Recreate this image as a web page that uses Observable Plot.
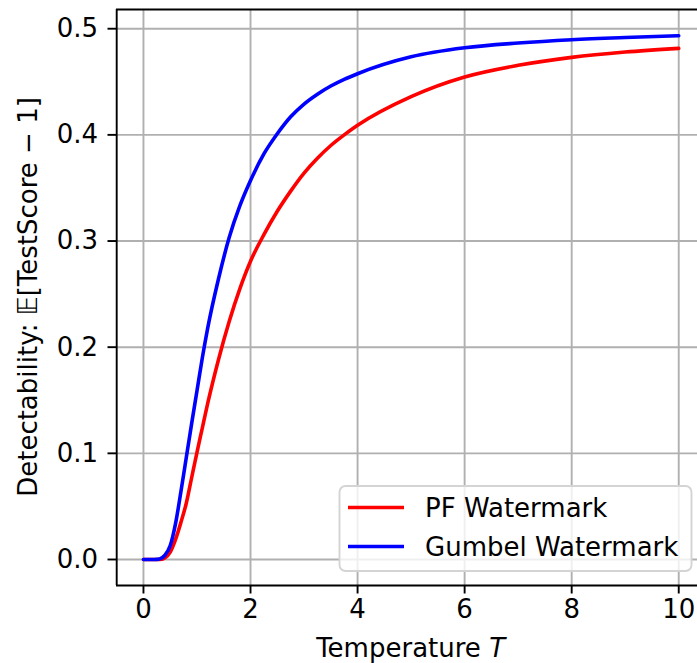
<!DOCTYPE html>
<html><head><meta charset="utf-8">
<script src="https://cdn.jsdelivr.net/npm/d3@7"></script>
<script src="https://cdn.jsdelivr.net/npm/@observablehq/plot@0.6"></script>
<style>
html,body{margin:0;padding:0;background:#fff;overflow:hidden;}
svg{display:block;}
svg text{font-family:"DejaVu Sans",sans-serif;}
</style></head><body><div id="chart"></div>
<script>
const temperatures = [0,0.1,0.2,0.3,0.4,0.5,0.6,0.7,0.8,0.9,1.0,1.1,1.2,1.4,1.6,1.8,2.0,2.25,2.5,2.75,3.0,3.25,3.5,3.75,4.0,5.0,6.0,7.0,8.0,9.0,10.0];
const pfValues =     [0,0,0,0,0.0015,0.007,0.019,0.035,0.053,0.077,0.101,0.124,0.147,0.188,0.224,0.255,0.281,0.306,0.328,0.347,0.364,0.378,0.39,0.4,0.409,0.436,0.4545,0.4655,0.473,0.478,0.4815];
const gumbelValues = [0,0,0,0.0005,0.004,0.013,0.034,0.064,0.096,0.128,0.159,0.19,0.218,0.264,0.303,0.333,0.357,0.382,0.401,0.417,0.429,0.4383,0.446,0.4523,0.4576,0.4735,0.482,0.4865,0.4896,0.4917,0.4934];
const seriesNames = ["PF Watermark","Gumbel Watermark"];
const seriesColors = ["#ff0000","#0000ff"];
const xTicks = [0,2,4,6,8,10];
const yTicks = [0,0.1,0.2,0.3,0.4,0.5];
const xLabel = "Temperature ";
const xLabelVar = "T";
const yLabel = "Detectability: 𝔼[TestScore − 1]";

const data = temperatures.flatMap((t,i)=>[
  {T:t, v:pfValues[i], s:seriesNames[0]},
  {T:t, v:gumbelValues[i], s:seriesNames[1]}
]);

const W=697, H=663, mL=116, mT=9, mB=78, FS=26;
const xDomain=[-0.5,10.5], yDomain=[-0.0245,0.5181];
const grid="#b0b0b0";

const plot = Plot.plot({
  width:W, height:H,
  marginLeft:mL, marginRight:0, marginTop:mT, marginBottom:mB,
  style:{fontFamily:"DejaVu Sans", fontSize:FS+"px", color:"#000", background:"#fff", overflow:"hidden"},
  x:{domain:xDomain, range:[116.2,705]},
  y:{domain:yDomain, range:[H-mB,mT]},
  color:{domain:seriesNames, range:seriesColors},
  marks:[
    Plot.ruleX(xTicks,{stroke:grid,strokeWidth:1.9}),
    Plot.ruleY(yTicks,{stroke:grid,strokeWidth:1.9}),
    Plot.line(data,{x:"T",y:"v",stroke:"s",z:"s",strokeWidth:3.6,curve:"monotone-x"}),
    Plot.ruleX([xDomain[0]],{stroke:"#000",strokeWidth:1.9}),
    Plot.ruleY([yDomain[0],yDomain[1]],{stroke:"#000",strokeWidth:1.9}),
    Plot.axisX({ticks:xTicks, tickSize:8.5, tickPadding:6, tickFormat:d=>String(d), label:null, strokeWidth:1.9, fontSize:FS, fill:"#000"}),
    Plot.axisY({ticks:yTicks, tickSize:8.5, tickPadding:10, tickFormat:d3.format(".1f"), label:null, strokeWidth:1.9, fontSize:FS, fill:"#000"})
  ]
});
document.getElementById("chart").appendChild(plot);

const svg = d3.select(plot);
// axis labels
const xl = svg.append("text").attr("x",410.6).attr("y",657).attr("text-anchor","middle")
  .attr("font-size",FS).attr("fill","#000");
xl.append("tspan").text(xLabel);
xl.append("tspan").attr("font-style","italic").text(xLabelVar);
svg.append("text").attr("transform","translate(37,297) rotate(-90)").attr("text-anchor","middle")
  .attr("font-size",FS).attr("fill","#000").text(yLabel);

// legend
const lg = svg.append("g");
lg.append("rect").attr("x",339.5).attr("y",486).attr("width",352).attr("height",85).attr("rx",6)
  .attr("fill","#fff").attr("fill-opacity",0.8).attr("stroke","#d4d4d4").attr("stroke-width",1.9);
seriesNames.forEach((name,i)=>{
  const y = 507.5 + i*39;
  lg.append("line").attr("x1",348).attr("x2",404).attr("y1",y).attr("y2",y)
    .attr("stroke",seriesColors[i]).attr("stroke-width",3.6);
  lg.append("text").attr("x",425).attr("y",y+9).attr("text-anchor","start")
    .attr("font-size",FS).attr("fill","#000").text(name);
});
</script></body></html>
